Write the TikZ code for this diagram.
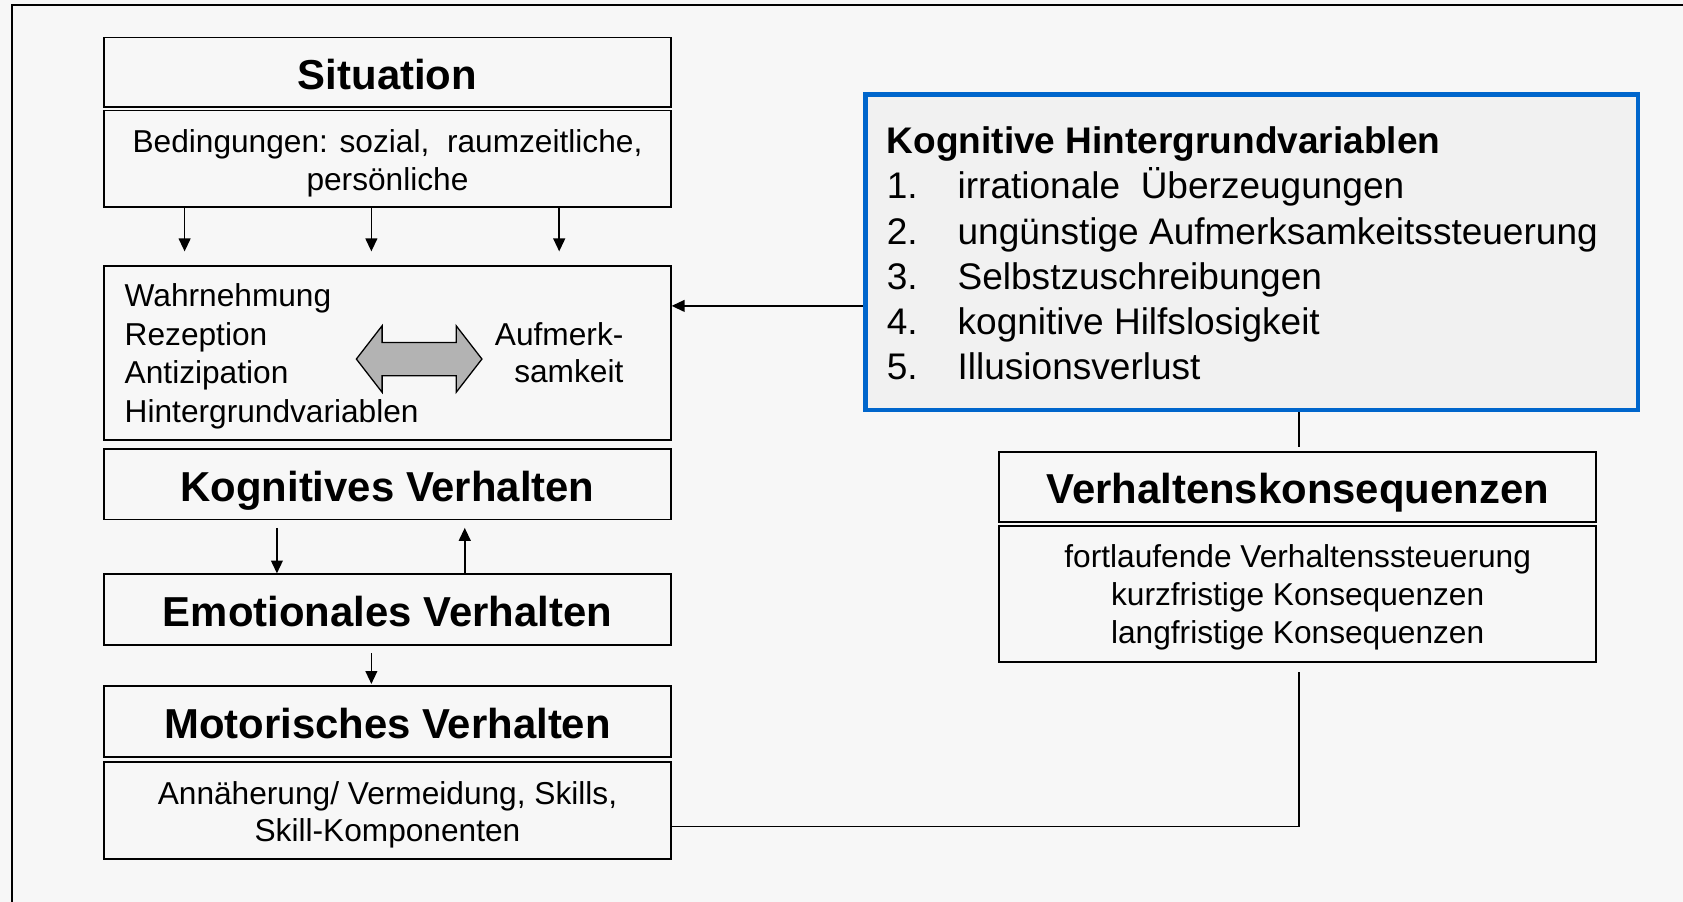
\documentclass[tikz,border=0pt]{standalone}
\usepackage{fontspec}
\setmainfont{Liberation Sans}
\usetikzlibrary{arrows.meta}
\definecolor{bg}{HTML}{F7F7F7}
\definecolor{panel}{HTML}{F1F1F1}
\definecolor{frameblue}{HTML}{0066CC}
\definecolor{arrowgray}{HTML}{B3B3B3}

\begin{document}
\begin{tikzpicture}[x=1pt,y=-1pt,
  box/.style={draw=black, line width=1.6pt, fill=bg, minimum width=528pt, inner sep=0pt, align=center},
  ttl/.style={font=\fontsize{39}{46}\selectfont\bfseries, text height=33pt, text depth=1pt},
  txt/.style={font=\fontsize{29.5}{35}\selectfont, inner sep=0pt, align=center},
  arr/.style={line width=1.4pt, -{Triangle[length=12pt,width=11pt]}},
  link/.style={line width=1.4pt},
]
% canvas and frame
\fill[bg] (0,0) rectangle (1568,840);
\useasboundingbox (0,0) rectangle (1568,840);
\draw[line width=1.8pt] (11,840) -- (11,4.7) -- (1568,4.7);

% left column
\node[box, ttl, minimum height=65pt] (sit) at (361,67.5) {Situation};
\node[box, minimum height=90pt] (bed) at (361,148) {};
\node[txt] (bedtext) at ([yshift=-4pt]bed.center) {Bedingungen: sozial,\ \ raumzeitliche,\\persönliche};

\node[box, minimum height=162pt] (wahr) at (361,329) {};
\node[anchor=west, align=left, inner sep=0pt, font=\fontsize{29.5}{36}\selectfont] (wlist) at (116,332)
  {Wahrnehmung\\Rezeption\\Antizipation\\Hintergrundvariablen};
\node[txt, anchor=east, align=right] (aufm) at (581,328.5) {Aufmerk-\\samkeit};
\filldraw[fill=arrowgray, draw=black, line width=1.2pt]
  (332,334.5) -- (356,303.5) -- (356,319) -- (425,319) -- (425,303.5) -- (449,334.5)
  -- (425,365.5) -- (425,350) -- (356,350) -- (356,365.5) -- cycle;

\node[box, ttl, minimum height=66pt] (kog) at (361,451) {Kognitives Verhalten};
\node[box, ttl, minimum height=66pt] (emo) at (361,568) {Emotionales Verhalten};
\node[box, ttl, minimum height=66pt] (mot) at (361,672) {Motorisches Verhalten};
\node[box, minimum height=90pt] (skl) at (361,755) {};
\node[txt] (skltext) at ([yshift=-4pt]skl.center) {Annäherung/ Vermeidung, Skills,\\Skill-Komponenten};

% right column
\node[draw=frameblue, line width=4.5pt, fill=panel, minimum width=720pt, minimum height=294pt, inner sep=0pt] (kh) at (1166,235) {};
\node[anchor=west, align=left, inner sep=0pt, font=\fontsize{34.5}{42}\selectfont] (khtext) at (826,236)
  {\textbf{Kognitive Hintergrundvariablen}\\
   \makebox[66pt][l]{1.}irrationale\ \ Überzeugungen\\
   \makebox[66pt][l]{2.}ungünstige Aufmerksamkeitssteuerung\\
   \makebox[66pt][l]{3.}Selbstzuschreibungen\\
   \makebox[66pt][l]{4.}kognitive Hilfslosigkeit\\
   \makebox[66pt][l]{5.}Illusionsverlust};

\node[box, ttl, minimum width=556pt, minimum height=65pt] (vk) at (1209,453.5) {Verhaltenskonsequenzen};
\node[box, minimum width=556pt, minimum height=127pt] (vks) at (1209,553.5) {};
\node[txt] (vkstext) at ([yshift=-3pt]vks.center)
  {fortlaufende Verhaltenssteuerung\\kurzfristige Konsequenzen\\langfristige Konsequenzen};

% connectors
\draw[arr, shorten >=13pt] ([xshift=-189pt]bed.south) -- ([xshift=-189pt]wahr.north);
\draw[arr, shorten >=13pt] ([xshift=-15pt]bed.south) -- ([xshift=-15pt]wahr.north);
\draw[arr, shorten >=13pt] ([xshift=160pt]bed.south) -- ([xshift=160pt]wahr.north);

\draw[arr, shorten <=7pt] ([xshift=-103pt]kog.south) -- ([xshift=-103pt]emo.north);
\draw[arr, shorten >=7pt] ([xshift=72pt]emo.north) -- ([xshift=72pt]kog.south);
\draw[arr, shorten <=7pt, shorten >=1pt] ([xshift=-15pt]emo.south) -- ([xshift=-15pt]mot.north);

\draw[arr] ([yshift=-50pt]kh.west) -- ([yshift=44pt]wahr.east);
\draw[link, shorten >=4pt] ([xshift=44pt]kh.south) -- ([xshift=44pt]kh.south |- vk.north);
\draw[link, shorten >=8pt] ([yshift=-15pt]skl.east) -| ([xshift=1pt]vks.south);
\end{tikzpicture}
\end{document}
